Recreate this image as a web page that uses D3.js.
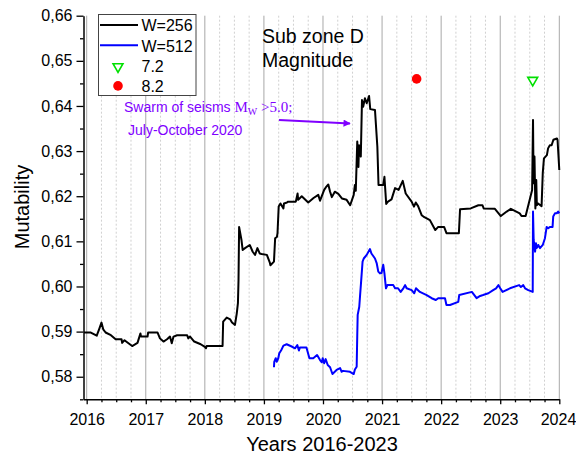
<!DOCTYPE html>
<html><head><meta charset="utf-8">
<script src="https://cdn.jsdelivr.net/npm/d3@7"></script>
<style>body{margin:0;background:#fff}svg{display:block}text{font-family:"Liberation Sans",Arial,sans-serif}</style>
</head><body><svg id="c" width="576" height="459"></svg>
<script>
// ---- data ----
const yearTicks = [2016,2017,2018,2019,2020,2021,2022,2023,2024];
const valueTicks = [0.58,0.59,0.60,0.61,0.62,0.63,0.64,0.65,0.66];
const seriesNames = ["W=256","W=512"];
const w256 = [
[2015.955,0.5898],[2016.07,0.5898],[2016.17,0.5891],[2016.21,0.5905],[2016.25,0.5920],[2016.28,0.5905],[2016.32,0.5898],
[2016.41,0.5892],[2016.49,0.5883],[2016.59,0.5883],[2016.60,0.5875],[2016.64,0.5881],[2016.69,0.5876],[2016.77,0.5868],
[2016.86,0.5875],[2016.91,0.5896],[2016.92,0.5889],[2017.03,0.5889],[2017.04,0.5898],[2017.20,0.5898],[2017.24,0.5885],
[2017.30,0.5878],[2017.36,0.5883],[2017.41,0.5889],[2017.44,0.5874],[2017.47,0.5889],[2017.53,0.5892],[2017.70,0.5892],
[2017.72,0.5885],[2017.75,0.5889],[2017.82,0.5878],[2017.93,0.5872],[2018.00,0.5866],[2018.02,0.5863],[2018.03,0.5868],
[2018.30,0.5868],[2018.31,0.5922],[2018.37,0.5931],[2018.43,0.5927],[2018.46,0.5920],[2018.51,0.5915],[2018.54,0.5940],
[2018.56,0.5963],[2018.57,0.6014],[2018.58,0.6132],[2018.59,0.6125],[2018.62,0.6103],[2018.64,0.6081],[2018.68,0.6085],
[2018.76,0.6092],[2018.81,0.6077],[2018.85,0.6070],[2018.89,0.6085],[2018.93,0.6073],[2018.96,0.6072],[2019.05,0.6070],
[2019.10,0.6053],[2019.11,0.6047],[2019.17,0.6055],[2019.19,0.6107],[2019.22,0.6110],[2019.23,0.6118],[2019.25,0.6177],
[2019.28,0.6184],[2019.33,0.6173],[2019.34,0.6184],[2019.39,0.6186],[2019.41,0.6188],[2019.54,0.6188],[2019.57,0.6206],
[2019.58,0.6192],[2019.64,0.6200],[2019.75,0.6186],[2019.84,0.6196],[2019.92,0.6203],[2019.95,0.6190],[2020.02,0.6214],
[2020.05,0.6220],[2020.09,0.6226],[2020.12,0.6210],[2020.15,0.6198],[2020.20,0.6210],[2020.26,0.6205],[2020.32,0.6195],
[2020.40,0.6192],[2020.46,0.6180],[2020.52,0.6203],[2020.54,0.6225],[2020.555,0.6212],[2020.58,0.6321],[2020.60,0.6265],
[2020.61,0.6313],[2020.64,0.6288],[2020.66,0.6413],[2020.68,0.6398],[2020.71,0.6417],[2020.74,0.6406],[2020.78,0.6422],
[2020.80,0.6393],[2020.88,0.6391],[2020.92,0.6310],[2020.94,0.6225],[2021.02,0.6225],[2021.04,0.6243],[2021.07,0.6183],
[2021.10,0.6188],[2021.16,0.6193],[2021.22,0.6218],[2021.28,0.6214],[2021.35,0.6234],[2021.40,0.6206],[2021.50,0.6188],
[2021.54,0.6177],[2021.57,0.6186],[2021.61,0.6178],[2021.67,0.6158],[2021.70,0.6155],[2021.81,0.6147],[2021.90,0.6125],
[2021.95,0.6132],[2022.05,0.6132],[2022.09,0.6118],[2022.30,0.6118],[2022.32,0.6171],[2022.50,0.6173],[2022.63,0.6180],
[2022.70,0.6180],[2022.72,0.6173],[2022.91,0.6172],[2023.01,0.6156],[2023.11,0.6166],[2023.18,0.6172],[2023.33,0.6162],
[2023.36,0.6156],[2023.43,0.6156],[2023.52,0.6203],[2023.54,0.6214],[2023.555,0.6369],[2023.565,0.6229],[2023.58,0.6288],
[2023.595,0.6173],[2023.61,0.6236],[2023.62,0.6180],[2023.64,0.6184],[2023.70,0.6178],[2023.72,0.6251],[2023.74,0.6284],
[2023.79,0.6291],[2023.81,0.6306],[2023.84,0.6313],[2023.87,0.6313],[2023.90,0.6325],[2023.96,0.6328],[2023.97,0.6325],
[2024.0,0.6258]
];
const w512 = [
[2019.17,0.5821],[2019.175,0.5833],[2019.20,0.5841],[2019.216,0.5833],[2019.243,0.5841],[2019.26,0.5852],[2019.29,0.5858],
[2019.33,0.5869],[2019.385,0.5872],[2019.47,0.5867],[2019.526,0.5863],[2019.565,0.5870],[2019.593,0.5858],[2019.61,0.5865],
[2019.72,0.5865],[2019.77,0.5841],[2019.835,0.5841],[2019.90,0.5848],[2019.95,0.5837],[2019.98,0.5832],[2019.995,0.5841],
[2020.02,0.5830],[2020.045,0.5839],[2020.08,0.5826],[2020.12,0.5821],[2020.16,0.5806],[2020.23,0.5815],[2020.29,0.5819],
[2020.316,0.5811],[2020.34,0.5813],[2020.457,0.5811],[2020.52,0.5806],[2020.54,0.5816],[2020.57,0.5822],[2020.58,0.5892],
[2020.587,0.5937],[2020.614,0.5955],[2020.626,0.5977],[2020.643,0.6007],[2020.67,0.6055],[2020.69,0.6062],[2020.74,0.6070],
[2020.795,0.6083],[2020.82,0.6073],[2020.88,0.6062],[2020.91,0.6051],[2020.936,0.6033],[2020.964,0.6029],[2020.99,0.6030],
[2021.02,0.6048],[2021.04,0.6029],[2021.066,0.5996],[2021.09,0.6003],[2021.19,0.6003],[2021.22,0.5996],[2021.27,0.5996],
[2021.315,0.5988],[2021.36,0.5996],[2021.39,0.6003],[2021.416,0.5996],[2021.50,0.5992],[2021.545,0.5985],[2021.574,0.5996],
[2021.64,0.5988],[2021.755,0.5981],[2021.84,0.5974],[2021.91,0.5970],[2021.95,0.5974],[2022.065,0.5974],[2022.09,0.5959],
[2022.15,0.5959],[2022.29,0.5966],[2022.306,0.5981],[2022.52,0.5988],[2022.60,0.5974],[2022.66,0.5979],[2022.71,0.5981],
[2022.80,0.5985],[2022.88,0.5992],[2022.93,0.5996],[2022.97,0.6003],[2023.0,0.5996],[2023.04,0.5988],[2023.165,0.5996],
[2023.32,0.6003],[2023.35,0.5999],[2023.39,0.6003],[2023.42,0.5996],[2023.475,0.5992],[2023.55,0.5988],[2023.555,0.6166],
[2023.566,0.6103],[2023.59,0.6077],[2023.605,0.6096],[2023.617,0.6085],[2023.644,0.6092],[2023.673,0.6085],[2023.72,0.6092],
[2023.757,0.6107],[2023.786,0.6132],[2023.813,0.6129],[2023.84,0.6132],[2023.886,0.6132],[2023.897,0.6155],[2023.926,0.6162],
[2023.955,0.6162],[2023.98,0.6166],[2024.0,0.6162]
];
const quake72 = [[2023.55,0.6457]];
const quake82 = [[2021.585,0.6460]];

// ---- layout ----
const svg = d3.select("#c");
const x = d3.scaleLinear().domain([2015.946,2024]).range([83.5,559.3]);
const y = d3.scaleLinear().domain([0.575,0.66]).range([399.3,15.7]);
const yTop = y(0.66), yBot = y(0.575);
const fmt = v => d3.format(".2f")(v).replace(".",",");
const purple = "#8000ff";

// minor grid (quarters)
const quarters = d3.range(2016,2024.01,0.25).filter(v=>Math.abs(v-Math.round(v))>0.01);
svg.append("g").selectAll("line").data(quarters).join("line")
  .attr("x1",d=>x(d)).attr("x2",d=>x(d)).attr("y1",yTop).attr("y2",yBot)
  .attr("stroke","#d0d0d0").attr("stroke-width",1).attr("stroke-dasharray","2,2");
// major grid
svg.append("g").selectAll("line").data(yearTicks).join("line")
  .attr("x1",d=>x(d)).attr("x2",d=>x(d)).attr("y1",yTop).attr("y2",yBot)
  .attr("stroke","#a8a8a8").attr("stroke-width",1);

// lines
const line = d3.line().x(d=>x(d[0])).y(d=>y(d[1]));
svg.append("path").datum(w512).attr("d",line).attr("fill","none").attr("stroke","#0000ff").attr("stroke-width",2).attr("stroke-linejoin","round");
svg.append("path").datum(w256).attr("d",line).attr("fill","none").attr("stroke","#000").attr("stroke-width",2).attr("stroke-linejoin","round");

// events
svg.append("g").selectAll("circle").data(quake82).join("circle")
  .attr("cx",d=>x(d[0])).attr("cy",d=>y(d[1])).attr("r",4.8).attr("fill","#ff0000");
const tri = d3.symbol().type(d3.symbolTriangle).size(42);
svg.append("g").selectAll("path").data(quake72).join("path")
  .attr("d",tri).attr("transform",d=>`translate(${x(d[0])},${y(d[1])}) rotate(180)`)
  .attr("fill","#fff").attr("stroke","#00e000").attr("stroke-width",1.6);

// axes
const xAx = svg.append("g").attr("transform",`translate(0,${yBot})`)
  .call(d3.axisBottom(x).tickValues(yearTicks).tickFormat(d3.format("d")).tickSize(5).tickPadding(9).tickSizeOuter(0));
xAx.selectAll(".tick text").filter(d=>d===2024).attr("text-anchor","end").attr("dx","16.5");
svg.append("g").attr("transform",`translate(0,${yBot})`)
  .call(d3.axisBottom(x).tickValues(quarters).tickFormat("").tickSize(3).tickSizeOuter(0))
  .select(".domain").remove();
svg.append("g").attr("transform",`translate(${x.range()[0]},0)`)
  .call(d3.axisLeft(y).tickValues(valueTicks).tickFormat(fmt).tickSize(7).tickPadding(4).tickSizeOuter(0));
const yMinor = d3.range(0.575,0.6601,0.005).filter(v=>Math.abs(v*100-Math.round(v*100))>0.1);
svg.append("g").attr("transform",`translate(${x.range()[0]},0)`)
  .call(d3.axisLeft(y).tickValues(yMinor).tickFormat("").tickSize(3.5).tickSizeOuter(0))
  .select(".domain").remove();
svg.selectAll(".tick line").attr("stroke","#000").attr("stroke-width",1.3);
svg.selectAll(".domain").attr("stroke","#000").attr("stroke-width",1.5);
svg.selectAll(".tick text").attr("font-size",16).attr("fill","#000").attr("font-family","'Liberation Sans',Arial,sans-serif");

// axis titles
svg.append("text").attr("x",322).attr("y",451).attr("text-anchor","middle").attr("font-size",20).text("Years 2016-2023");
svg.append("text").attr("transform","translate(28.5,207) rotate(-90)").attr("text-anchor","middle").attr("font-size",20).text("Mutability");

// chart title
svg.append("text").attr("x",262).attr("y",43.3).attr("font-size",19.5).text("Sub zone D");
svg.append("text").attr("x",262).attr("y",67).attr("font-size",19.5).text("Magnitude");

// legend
const lg = svg.append("g");
lg.append("rect").attr("x",98.5).attr("y",14.5).attr("width",97.5).attr("height",81).attr("fill","#fff").attr("stroke","#444").attr("stroke-width",1);
const legendItems = [
  {name:seriesNames[0], type:"line", color:"#000"},
  {name:seriesNames[1], type:"line", color:"#0000ff"},
  {name:"7.2", type:"tri"},
  {name:"8.2", type:"dot"}
];
legendItems.forEach((it,i)=>{
  const cy = 25 + i*20.3;
  if(it.type==="line") lg.append("line").attr("x1",100).attr("x2",138).attr("y1",cy).attr("y2",cy).attr("stroke",it.color).attr("stroke-width",2);
  else if(it.type==="tri") lg.append("path").attr("d",tri).attr("transform",`translate(118,${cy+1}) rotate(180)`).attr("fill","#fff").attr("stroke","#00e000").attr("stroke-width",1.6);
  else lg.append("circle").attr("cx",118).attr("cy",cy).attr("r",4.8).attr("fill","#ff0000");
  lg.append("text").attr("x",141.5).attr("y",cy+6.3).attr("font-size",16).text(it.name);
});

// annotation
const ann = svg.append("text").attr("x",124).attr("y",112).attr("fill",purple).attr("font-size",14);
ann.append("tspan").text("Swarm of seisms ");
ann.append("tspan").attr("font-family","'Liberation Serif','Times New Roman',serif").attr("font-size",15).text("M");
ann.append("tspan").attr("font-family","'Liberation Serif','Times New Roman',serif").attr("font-size",10).attr("dy",3).text("W");
ann.append("tspan").attr("font-family","'Liberation Serif','Times New Roman',serif").attr("font-size",15).attr("dy",-3).text(" >5.0;");
svg.append("text").attr("x",128).attr("y",135).attr("fill",purple).attr("font-size",14).text("July-October 2020");
svg.append("defs").append("marker").attr("id","arr").attr("viewBox","0 0 10 10").attr("refX",9).attr("refY",5)
  .attr("markerWidth",5).attr("markerHeight",4).attr("orient","auto").attr("markerUnits","strokeWidth")
  .append("path").attr("d","M0,0 L10,5 L0,10 Z").attr("fill",purple);
svg.append("line").attr("x1",279).attr("y1",120).attr("x2",350).attr("y2",123.5).attr("stroke",purple).attr("stroke-width",1.8).attr("marker-end","url(#arr)");
</script></body></html>
